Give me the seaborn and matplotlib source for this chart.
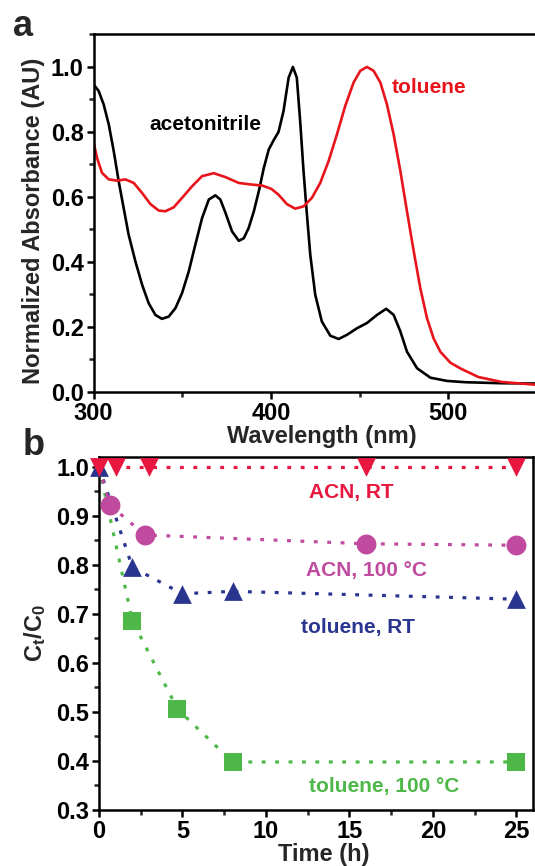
import matplotlib
matplotlib.use("Agg")
import matplotlib.pyplot as plt
import seaborn as sns
import pandas as pd
from matplotlib.ticker import MultipleLocator

# ---------------- data: panel a (absorbance spectra) ----------------
acn_wl = [300.1, 302.9, 305.7, 308.6, 311.4, 314.2, 317, 319.8, 323.6, 327.4, 331.1,
          334.9, 338.6, 342.4, 346.2, 349.9, 353.7, 357.4, 361.2, 365, 368.7, 371.5,
          374.4, 378.1, 381.9, 384.7, 387.5, 390.4, 393.2, 396, 398.8, 401.6, 404.3,
          407.1, 410, 412.4, 414.6, 416.5, 418.4, 420.3, 422.2, 425, 428.7, 433.5,
          438.2, 442.9, 448.5, 454.1, 459.8, 465, 469.2, 473, 476.7, 482.4, 489.9,
          499.3, 510, 530, 550]
acn_abs = [0.946, 0.926, 0.885, 0.823, 0.741, 0.648, 0.566, 0.484, 0.402, 0.330, 0.273,
           0.237, 0.225, 0.232, 0.258, 0.304, 0.371, 0.453, 0.535, 0.592, 0.605, 0.592,
           0.551, 0.494, 0.465, 0.473, 0.505, 0.556, 0.618, 0.689, 0.746, 0.775, 0.800,
           0.864, 0.967, 1.0, 0.967, 0.833, 0.679, 0.546, 0.422, 0.299, 0.217, 0.173,
           0.163, 0.176, 0.196, 0.212, 0.237, 0.256, 0.237, 0.186, 0.124, 0.073, 0.044,
           0.034, 0.030, 0.027, 0.026]
tol_wl = [300.1, 302, 304.8, 308.6, 313.3, 318, 322.7, 327.4, 332.1, 336.8, 340.5,
          345.2, 349.9, 355.6, 361.2, 367.8, 374.4, 381.9, 389.4, 395.1, 400.2, 404.3,
          409, 413.7, 418.4, 423.1, 427.8, 432.5, 437.2, 441.9, 446.6, 450.4, 454.1,
          457.9, 461.7, 465.4, 469.2, 473, 476.7, 480.5, 484.2, 488, 491.7, 495.5,
          501.2, 507, 517, 530, 550]
tol_abs = [0.767, 0.720, 0.674, 0.654, 0.650, 0.654, 0.643, 0.612, 0.578, 0.558, 0.556,
           0.568, 0.597, 0.633, 0.664, 0.673, 0.661, 0.643, 0.638, 0.635, 0.625, 0.607,
           0.578, 0.564, 0.571, 0.597, 0.643, 0.710, 0.792, 0.880, 0.952, 0.988, 1.0,
           0.988, 0.952, 0.885, 0.792, 0.679, 0.556, 0.433, 0.320, 0.227, 0.165, 0.124,
           0.090, 0.072, 0.046, 0.031, 0.022]

# ---------------- data: panel b (kinetics) ----------------
acnrt_t = [0, 1, 3, 16, 25]
acnrt_c = [1.0, 1.0, 1.0, 1.0, 1.0]
acn100_t = [0, 0.65, 2.75, 16, 25]
acn100_c = [1.0, 0.922, 0.861, 0.843, 0.840]
tolrt_t = [0, 2, 5, 8, 25]
tolrt_c = [1.0, 0.795, 0.741, 0.746, 0.730]
tol100_t = [0, 2, 4.7, 8, 25]
tol100_c = [1.0, 0.686, 0.506, 0.398, 0.398]

FONT = "Liberation Sans"
sns.set_style("ticks")
plt.rcParams["font.family"] = [FONT, "DejaVu Sans"]
plt.rcParams["font.weight"] = "bold"
plt.rcParams["mathtext.fontset"] = "custom"
plt.rcParams["mathtext.rm"] = FONT + ":bold"
plt.rcParams["mathtext.it"] = FONT + ":bold"
plt.rcParams["mathtext.bf"] = FONT + ":bold"

TICKFS = 17
LABFS = 17
ANNFS = 15

W, H = 535, 866
fig = plt.figure(figsize=(W / 100, H / 100), dpi=100)

def px_axes(l, t, r, b):
    return fig.add_axes([l / W, 1 - b / H, (r - l) / W, (b - t) / H])

def style(ax):
    for s in ax.spines.values():
        s.set_linewidth(1.8)
        s.set_color("black")
    ax.tick_params(which="major", direction="out", length=5, width=1.8,
                   labelsize=TICKFS, pad=2, top=False, right=False, colors="black")
    ax.tick_params(which="minor", direction="out", length=3.3, width=1.8,
                   top=False, right=False)
    for lab in ax.get_xticklabels() + ax.get_yticklabels():
        lab.set_fontweight("bold")
        lab.set_fontsize(TICKFS)

# ---------------- panel a ----------------
ax1 = px_axes(93.5, 34.4, 537, 392)
dfa = pd.DataFrame({"wl": acn_wl, "A": acn_abs})
dft = pd.DataFrame({"wl": tol_wl, "A": tol_abs})
sns.lineplot(data=dfa, x="wl", y="A", ax=ax1, color="black", lw=1.9,
             sort=False, estimator=None)
sns.lineplot(data=dft, x="wl", y="A", ax=ax1, color="#E8141C", lw=1.9,
             sort=False, estimator=None)
ax1.set_xlim(300, 550)
ax1.set_ylim(0, 1.1)
ax1.xaxis.set_minor_locator(MultipleLocator(50))
ax1.yaxis.set_minor_locator(MultipleLocator(0.1))
ax1.set_yticks([0, 0.2, 0.4, 0.6, 0.8, 1.0])
ax1.set_yticklabels(["0.0", "0.2", "0.4", "0.6", "0.8", "1.0"])
ax1.set_xticks([300, 400, 500])
ax1.set_xticklabels(["300", "400", "500"])
style(ax1)
ax1.spines["right"].set_visible(False)
ax1.set_xlabel("Wavelength (nm)", fontsize=LABFS, fontweight="bold", labelpad=0)
ax1.xaxis.label.set_x(0.515)
ax1.set_ylabel("Normalized Absorbance (AU)", fontsize=LABFS, fontweight="bold", labelpad=4)
ax1.yaxis.label.set_y(0.478)
ax1.text(362.8, 0.822, "acetonitrile", fontsize=ANNFS, fontweight="bold",
         color="black", ha="center", va="center")
ax1.text(489.4, 0.938, "toluene", fontsize=ANNFS, fontweight="bold",
         color="#E8141C", ha="center", va="center")
fig.text(13 / W, 1 - 36 / H, "a", fontsize=26, fontweight="bold", ha="left", va="baseline")

# ---------------- panel b ----------------
ax2 = px_axes(99, 457, 533, 810)
RED, MAG, NAVY, GRN = "#E8173F", "#BF4A9E", "#2A3590", "#4DB848"
dotted = (0, (1.2, 3.0))
series = [
    (tol100_t, tol100_c, GRN, "s", 12.8, 1),
    (tolrt_t, tolrt_c, NAVY, "^", 13.5, 0),
    (acn100_t, acn100_c, MAG, "o", 14.3, 1),
    (acnrt_t, acnrt_c, RED, "v", 13.5, 0),
]
for t, c, col, mk, ms, start in series:
    df = pd.DataFrame({"t": t, "c": c})
    sns.lineplot(data=df, x="t", y="c", ax=ax2, color=col, lw=2.3,
                 linestyle=dotted, sort=False, estimator=None)
    dm = df.iloc[start:]
    sns.scatterplot(data=dm, x="t", y="c", ax=ax2, color=col, marker=mk,
                    s=ms ** 2, linewidth=0, zorder=3, clip_on=False)
ax2.set_xlim(0, 26)
ax2.set_ylim(0.3, 1.02)
ax2.set_xticks([0, 5, 10, 15, 20, 25])
ax2.set_xticklabels(["0", "5", "10", "15", "20", "25"])
ax2.xaxis.set_minor_locator(MultipleLocator(2.5))
ax2.set_yticks([0.3, 0.4, 0.5, 0.6, 0.7, 0.8, 0.9, 1.0])
ax2.set_yticklabels(["0.3", "0.4", "0.5", "0.6", "0.7", "0.8", "0.9", "1.0"])
ax2.yaxis.set_minor_locator(MultipleLocator(0.05))
style(ax2)
ax2.set_xlabel("Time (h)", fontsize=LABFS, fontweight="bold", labelpad=0)
ax2.xaxis.label.set_x(0.518)
ax2.set_ylabel(r"C$_\mathregular{t}$/C$_\mathregular{0}$", fontsize=LABFS, fontweight="bold", labelpad=6)
ax2.text(15.1, 0.947, "ACN, RT", fontsize=ANNFS, fontweight="bold", color=RED,
         ha="center", va="center")
ax2.text(16.0, 0.788, "ACN, 100 °C", fontsize=ANNFS, fontweight="bold", color=MAG,
         ha="center", va="center")
ax2.text(15.5, 0.673, "toluene, RT", fontsize=ANNFS, fontweight="bold", color=NAVY,
         ha="center", va="center")
ax2.text(17.1, 0.348, "toluene, 100 °C", fontsize=ANNFS, fontweight="bold", color=GRN,
         ha="center", va="center")
fig.text(23 / W, 1 - 455 / H, "b", fontsize=26, fontweight="bold", ha="left", va="baseline")

fig.savefig("out.png", dpi=100)
